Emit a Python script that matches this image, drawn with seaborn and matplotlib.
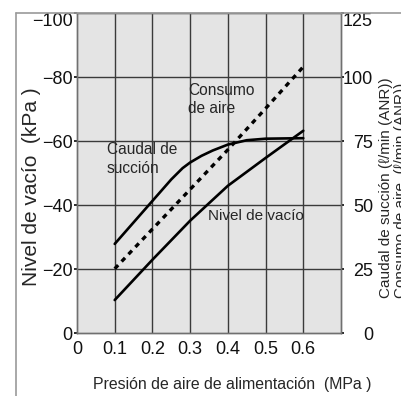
import matplotlib
matplotlib.use("Agg")
import matplotlib.pyplot as plt
import seaborn as sns
import pandas as pd
from matplotlib.lines import Line2D

# ---- data ----
pressure = [0.1, 0.2, 0.3, 0.4, 0.5, 0.6]
vacuum_kpa = [-10.3, -22.9, -35.1, -46.0, -54.7, -63.2]          # left axis
flow_x = [0.1, 0.2, 0.25, 0.28, 0.3, 0.33, 0.36, 0.4, 0.45, 0.5, 0.55, 0.6]
suction_flow = [34.8, 51.6, 60.0, 64.4, 66.6, 69.2, 71.3, 73.6, 75.3, 75.9, 76.0, 76.1]  # right axis
air_consumption = [25.1, 40.6, 56.1, 71.6, 87.7, 104.0]           # right axis

x_ticks = [0, 0.1, 0.2, 0.3, 0.4, 0.5, 0.6]
x_tick_labels = ["0", "0.1", "0.2", "0.3", "0.4", "0.5", "0.6"]
left_ticks = [0, -20, -40, -60, -80, -100]
left_tick_labels = ["0", "\u221220", "\u221240", "\u221260", "\u221280", "\u2212100"]
right_ticks = [0, 25, 50, 75, 100, 125]
right_tick_labels = ["0", "25", "50", "75", "100", "125"]

sns.set_theme(style="white")
plt.rcParams['font.family'] = ['Liberation Sans', 'DejaVu Sans']

W, H = 401, 396
fig = plt.figure(figsize=(W / 100, H / 100), dpi=100)
ax = fig.add_axes([77 / W, 1 - 333 / H, (341 - 77) / W, (333 - 13) / H])
ax.set_facecolor('#e4e4e4')

gridc = '#3a3a3a'
for xv in x_ticks[1:]:
    ax.axvline(xv, color=gridc, lw=1.0, zorder=1)
for yv in left_ticks[1:-1]:
    ax.axhline(yv, color=gridc, lw=1.0, zorder=1)

df_v = pd.DataFrame({'p': pressure, 'v': vacuum_kpa})
sns.lineplot(data=df_v, x='p', y='v', ax=ax, color='black', lw=1.9, zorder=3)

ax.set_xlim(0, 0.7)
ax.set_ylim(0, -100)
ax.set_xticks(x_ticks)
ax.set_xticklabels(x_tick_labels)
ax.set_yticks(left_ticks)
ax.set_yticklabels(left_tick_labels)
ax.set_xlabel('')
ax.set_ylabel('')
ax.tick_params(axis='x', length=0, pad=6, labelsize=13, colors='#111111')
ax.tick_params(axis='y', length=2, pad=1, labelsize=13, colors='#111111', direction='out')
for s in ax.spines.values():
    s.set_color('#707070')
    s.set_linewidth(1.0)

ax2 = ax.twinx()
ax2.set_facecolor('none')
df_f = pd.DataFrame({'p': flow_x, 'f': suction_flow})
df_c = pd.DataFrame({'p': pressure, 'c': air_consumption})
sns.lineplot(data=df_f, x='p', y='f', ax=ax2, color='black', lw=1.9)
sns.lineplot(data=df_c, x='p', y='c', ax=ax2, color='black', lw=2.4,
             linestyle=(0, (1.5, 1.5)))
ax2.set_ylim(0, 125)
ax2.set_xlim(0, 0.7)
ax2.set_yticks(right_ticks)
ax2.set_yticklabels(right_tick_labels)
ax2.set_ylabel('')
ax2.set_xlabel('')
ax2.tick_params(axis='y', length=2, pad=21, labelsize=13, colors='#111111', direction='out')
for lab in ax2.get_yticklabels():
    lab.set_horizontalalignment('right')
for s in ax2.spines.values():
    s.set_color('#707070')
    s.set_linewidth(1.0)

# shift top labels down like the reference
ax.get_yticklabels()[-1].set_verticalalignment('top')
ax2.get_yticklabels()[-1].set_verticalalignment('top')

fs = 11.2
ax.text(0.294, -74.5, 'Consumo', fontsize=fs, va='baseline', zorder=5)
ax.text(0.294, -68.9, 'de aire', fontsize=fs, va='baseline', zorder=5)
ax.text(0.0796, -55.8, 'Caudal de', fontsize=fs, va='baseline', zorder=5)
ax.text(0.0796, -50.0, 'succi\u00f3n', fontsize=fs, va='baseline', zorder=5)
ax.text(0.347, -35.4, 'Nivel de vac\u00edo', fontsize=11, va='baseline', zorder=5)

fig.text(232 / W, 1 - 385 / H, 'Presi\u00f3n de aire de alimentaci\u00f3n  (MPa )',
         fontsize=11.4, ha='center', va='center')
fig.text(32 / W, 1 - 187 / H, 'Nivel de vac\u00edo  (kPa )', fontsize=15,
         rotation=90, ha='center', va='center')
fig.text(386 / W, 1 - 298 / H, 'Caudal de succi\u00f3n (\u2113/min (ANR))', fontsize=11,
         rotation=90, ha='center', va='bottom')
fig.text(400.5 / W, 1 - 298 / H, 'Consumo de aire  (\u2113/min (ANR))', fontsize=11,
         rotation=90, ha='center', va='bottom')

fc = '#9a9a9a'
fig.add_artist(Line2D([16 / W, 1], [1 - 13 / H, 1 - 13 / H], color=fc, lw=1.2,
                      transform=fig.transFigure))
fig.add_artist(Line2D([16 / W, 16 / W], [0, 1 - 13 / H], color=fc, lw=1.2,
                      transform=fig.transFigure))

fig.savefig('out.png', dpi=100)
